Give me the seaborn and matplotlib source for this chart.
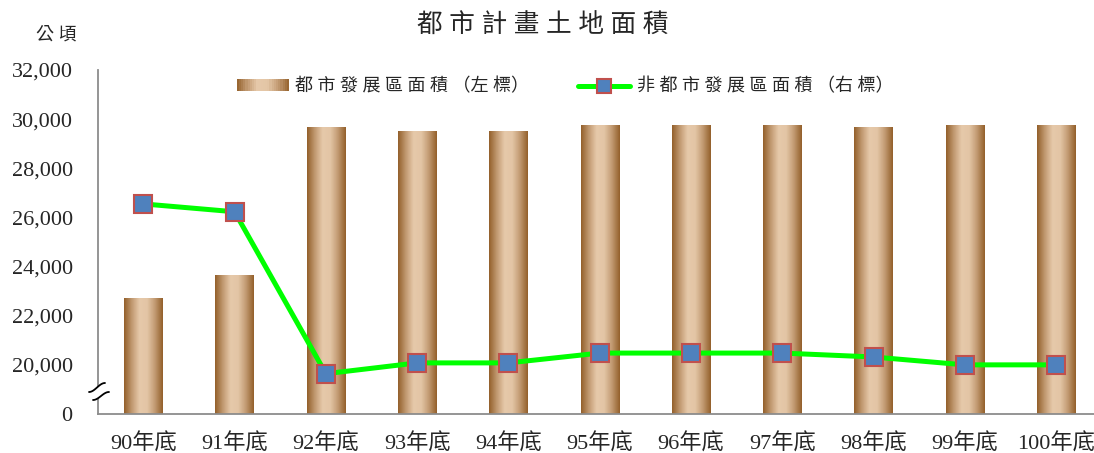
import numpy as np
import matplotlib
matplotlib.use("Agg")
import matplotlib.pyplot as plt
import seaborn as sns
from matplotlib.colors import LinearSegmentedColormap
from matplotlib.patches import Rectangle, Polygon
from matplotlib.lines import Line2D
from matplotlib.legend_handler import HandlerBase

# data (公頃)
years = ['90年底', '91年底', '92年底', '93年底', '94年底', '95年底',
         '96年底', '97年底', '98年底', '99年底', '100年底']
urban = [22690, 23620, 29650, 29490, 29490, 29730, 29730, 29730, 29650, 29730, 29730]
non_urban = [26550, 26230, 19640, 20080, 20080, 20480, 20480, 20480, 20320, 20000, 20000]
ytick_labels = ['0', '20,000', '22,000', '24,000', '26,000', '28,000', '30,000', '32,000']

# broken axis: the gap 0..20,000 is squeezed into one step
base = 18000

W, H = 1094, 453
sns.set_style("white")
fams = ['Liberation Serif', 'Noto Sans CJK TC']
plt.rcParams['font.family'] = fams

grad_cmap = LinearSegmentedColormap.from_list(
    'bar', ['#94612c', '#c29a72', '#e6c9aa', '#e3c5a5', '#c29a72', '#94612c'])
grad = np.linspace(0, 1, 64).reshape(1, -1)

fig = plt.figure(figsize=(W / 100, H / 100), dpi=100)
ax = fig.add_axes([97.7 / W, 1 - 414 / H, (1101.7 - 97.7) / W, (414 - 70) / H])

xs = np.arange(len(years))
sns.barplot(x=xs, y=[u - base for u in urban], ax=ax, width=0.42,
            color='#c9a27e', native_scale=True, zorder=2)
for p in list(ax.patches):
    x0, y0 = p.get_x(), p.get_y()
    w, h = p.get_width(), p.get_height()
    ax.imshow(grad, cmap=grad_cmap, extent=(x0, x0 + w, y0, y0 + h),
              aspect='auto', zorder=2, interpolation='bilinear')
    p.set_visible(False)

sns.lineplot(x=xs, y=[v - base for v in non_urban], ax=ax, color='#00ff00',
             linewidth=3.6, marker='s', markersize=13, markerfacecolor='#4f81bd',
             markeredgecolor='#c0504d', markeredgewidth=1.5, zorder=4)

ax.set_xlim(-0.5, len(years) - 0.5)
ax.set_ylim(0, 14000)
ax.set_yticks(np.arange(0, 14001, 2000))
ax.set_yticklabels(ytick_labels, fontsize=16)
ax.set_xticks(xs)
ax.set_xticklabels(years, fontsize=16)
ax.set_xticks(np.arange(-0.5, len(years)), minor=True)
ax.tick_params(axis='x', which='major', length=0, pad=14)
ax.tick_params(axis='x', which='minor', length=5, width=1.3, color='#8c8c8c', direction='out')
ax.tick_params(axis='y', length=5, width=1.3, color='#8c8c8c', direction='out', pad=13)
ax.set_xlabel('')
ax.set_ylabel('')
for s in ['top', 'right']:
    ax.spines[s].set_visible(False)
for s in ['left', 'bottom']:
    ax.spines[s].set_color('#8c8c8c')
    ax.spines[s].set_linewidth(1.3)


class GradHandler(HandlerBase):
    def create_artists(self, legend, orig_handle, xd, yd, width, height, fontsize, trans):
        n = 24
        arts = []
        for i in range(n):
            c = grad_cmap((i + 0.5) / n)
            arts.append(Rectangle((i * width / n - xd, -yd), width / n + 0.3, height,
                                  facecolor=c, edgecolor='none', transform=trans))
        return arts


bar_handle = Rectangle((0, 0), 1, 1)
line_handle = Line2D([], [], color='#00ff00', linewidth=3.6, marker='s', markersize=10,
                     markerfacecolor='#4f81bd', markeredgecolor='#c0504d', markeredgewidth=1.5)
fig.legend([bar_handle, line_handle],
           ['都 市 發 展 區 面 積 （左 標）', '非 都 市 發 展 區 面 積 （右 標）'],
           handler_map={Rectangle: GradHandler()},
           loc='center', bbox_to_anchor=(565 / W, 1 - 87 / H), ncol=2, frameon=False,
           prop={'family': fams, 'size': 13}, handlelength=2.9, handleheight=0.62,
           handletextpad=0.35, columnspacing=2.7)

fig.text(543 / W, 1 - 26 / H, '都 市 計 畫 土 地 面 積', ha='center', va='center',
         fontsize=18.5, family=fams)
fig.text(56 / W, 1 - 35 / H, '公 頃', ha='center', va='center', fontsize=13, family=fams)


# axis break mark
def px(x, y):
    return x / W, 1 - y / H


t = np.linspace(0, 1, 30)
s = 0.5 - 0.5 * np.cos(np.pi * t)
upper = [px(89 + 16 * ti, 392 - 9 * si) for ti, si in zip(t, s)]
lower = [px(93 + 16 * ti, 400 - 8 * si) for ti, si in zip(t, s)]
fig.patches.append(Polygon(upper + lower[::-1], closed=True, facecolor='white',
                           edgecolor='none', transform=fig.transFigure, zorder=5))
for curve in (upper, lower):
    cx, cy = zip(*curve)
    fig.lines.append(Line2D(cx, cy, color='black', linewidth=1.3,
                            transform=fig.transFigure, zorder=6))

fig.savefig('out.png', dpi=100)
